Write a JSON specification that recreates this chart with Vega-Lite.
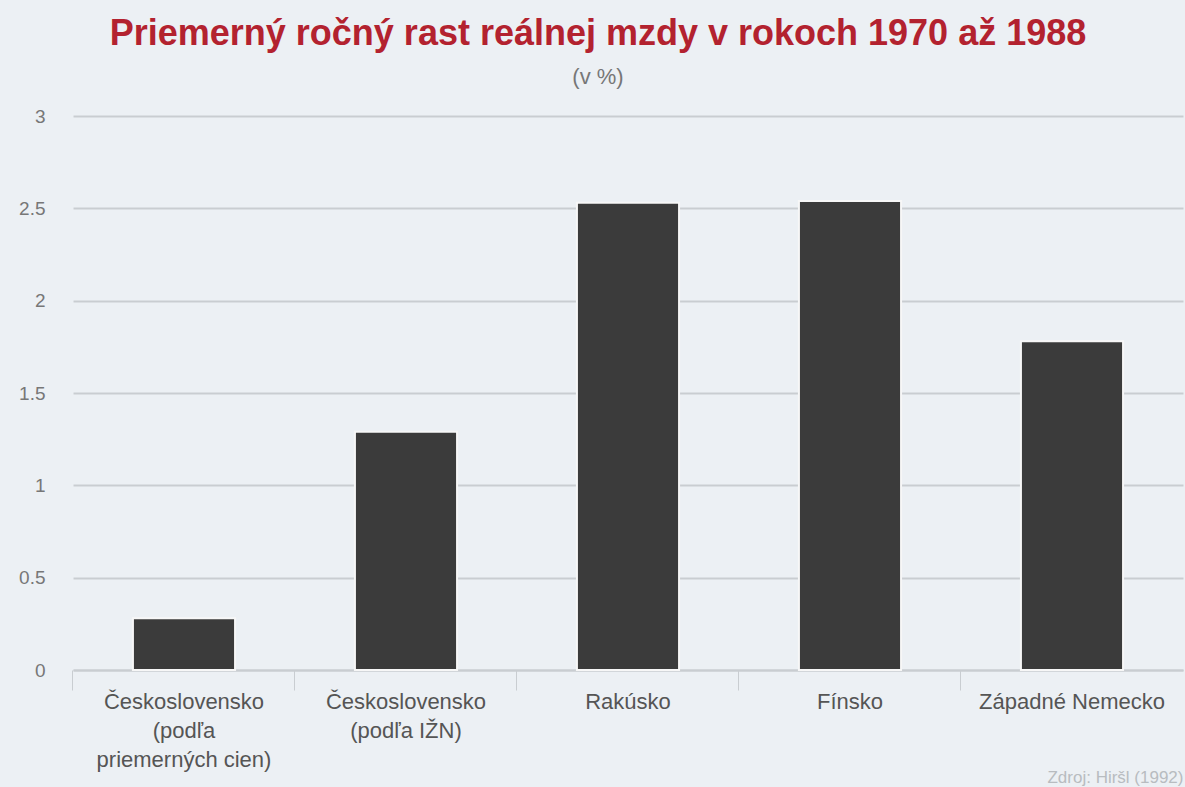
{
  "$schema": "https://vega.github.io/schema/vega-lite/v6.json",
  "autosize": {"type": "none"},
  "width": 1110,
  "height": 554,
  "padding": {"left": 73, "top": 116, "right": 2, "bottom": 117},
  "background": "#ecf0f4",
  "config": {
    "view": {"stroke": null},
    "font": "Liberation Sans"
  },
  "title": {
    "text": "Priemerný ročný rast reálnej mzdy v rokoch 1970 až 1988",
    "subtitle": "(v %)",
    "anchor": "middle",
    "frame": "group",
    "dx": -30,
    "offset": 18,
    "subtitlePadding": 14,
    "font": "Liberation Sans",
    "fontSize": 36,
    "fontWeight": "bold",
    "color": "#b3222f",
    "subtitleFont": "Liberation Sans",
    "subtitleFontSize": 22,
    "subtitleColor": "#777777"
  },
  "data": {
    "values": [
      {"krajina": "Československo (podľa priemerných cien)", "rast": 0.28},
      {"krajina": "Československo (podľa IŽN)", "rast": 1.29},
      {"krajina": "Rakúsko", "rast": 2.53},
      {"krajina": "Fínsko", "rast": 2.54},
      {"krajina": "Západné Nemecko", "rast": 1.78}
    ]
  },
  "resolve": {"axis": {"x": "independent"}},
  "layer": [
    {
      "mark": {"type": "bar", "fill": "#3b3b3b", "stroke": "#f7f7f7", "strokeWidth": 2},
      "encoding": {
        "x": {
          "field": "krajina",
          "type": "nominal",
          "sort": null,
          "scale": {"paddingInner": 0.54, "paddingOuter": 0.27},
          "axis": {
            "orient": "bottom",
            "title": null,
            "labelAngle": 0,
            "ticks": false,
            "domain": false,
            "labelPadding": 31,
            "labelFontSize": 22,
            "labelColor": "#555555",
            "labelLineHeight": 29,
            "labelBaseline": "middle",
            "labelLimit": 400,
            "labelExpr": "datum.value == 'Československo (podľa priemerných cien)' ? ['Československo','(podľa','priemerných cien)'] : datum.value == 'Československo (podľa IŽN)' ? ['Československo','(podľa IŽN)'] : datum.value"
          }
        },
        "y": {
          "field": "rast",
          "type": "quantitative",
          "scale": {"domain": [0, 3], "nice": false},
          "axis": {
            "title": null,
            "values": [0, 0.5, 1, 1.5, 2, 2.5, 3],
            "format": "~g",
            "ticks": false,
            "domain": false,
            "labelPadding": 28,
            "labelFontSize": 19,
            "labelColor": "#777777",
            "gridColor": "#c9cdd1",
            "gridWidth": 2
          }
        }
      }
    },
    {
      "mark": {"type": "bar", "opacity": 0},
      "encoding": {
        "x": {
          "field": "krajina",
          "type": "nominal",
          "sort": null,
          "axis": {
            "orient": "bottom",
            "title": "Zdroj: Hiršl (1992)",
            "titleFontSize": 17,
            "titleFontWeight": "normal",
            "titleColor": "#b8bcc0",
            "titleAnchor": null,
            "titleAlign": "right",
            "titleX": 1110,
            "titleY": 112,
            "titleBaseline": "alphabetic",
            "labels": false,
            "ticks": true,
            "tickSize": 20,
            "tickColor": "#c9cdd1",
            "tickWidth": 1,
            "domain": true,
            "domainColor": "#c9cdd1",
            "domainWidth": 2,
            "bandPosition": -0.587
          }
        },
        "y": {
          "field": "rast",
          "type": "quantitative",
          "axis": {
            "title": null,
            "values": [0, 0.5, 1, 1.5, 2, 2.5, 3],
            "format": "~g",
            "ticks": false,
            "domain": false,
            "labelPadding": 28,
            "labelFontSize": 19,
            "labelColor": "#777777",
            "gridColor": "#c9cdd1",
            "gridWidth": 2
          }
        }
      }
    }
  ]
}
